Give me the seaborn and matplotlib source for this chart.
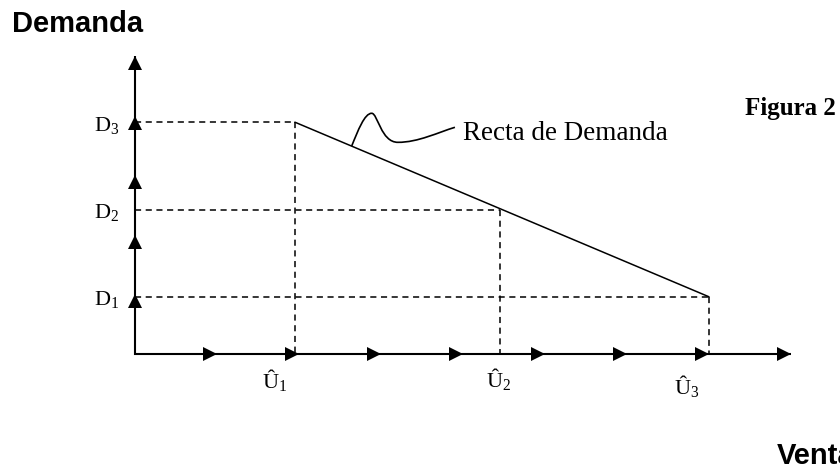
"""
Recta de demanda: Demanda vs Ventas (Figura 2).
"""
import numpy as np
import pandas as pd
import matplotlib
matplotlib.use("Agg")
import matplotlib.pyplot as plt
import seaborn as sns
from matplotlib.path import Path
from matplotlib.patches import PathPatch

# Ventas (Û) and Demanda (D) levels
ventas_labels = [r"$\mathrm{Û}_1$", r"$\mathrm{Û}_2$", r"$\mathrm{Û}_3$"]
ventas = [1.95, 4.45, 7.0]
demanda_labels = [r"$\mathrm{D}_1$", r"$\mathrm{D}_2$", r"$\mathrm{D}_3$"]
demanda = [0.96, 2.42, 3.89]

# arrow marks along each axis
x_steps = [1, 2, 3, 4, 5, 6, 7, 8]
y_steps = [1, 2, 3, 4, 5]

# callout squiggle from the line to its label (bezier control points)
callout_x = [2.643, 2.72, 2.80, 2.887, 2.96, 3.00, 3.207, 3.45, 3.70, 3.902]
callout_y = [3.49, 3.75, 4.04, 4.039, 4.04, 3.55, 3.552, 3.55, 3.72, 3.804]

serif = ["Liberation Serif", "DejaVu Serif"]
sans = ["Liberation Sans", "DejaVu Sans"]

sns.set_style("white")
plt.rcParams["text.color"] = "black"
plt.rcParams["mathtext.fontset"] = "custom"
plt.rcParams["mathtext.rm"] = "Liberation Serif"
plt.rcParams["mathtext.it"] = "Liberation Serif:italic"
plt.rcParams["mathtext.bf"] = "Liberation Serif:bold"

fig = plt.figure(figsize=(8.4, 4.67), dpi=100)
ax = fig.add_axes([0, 0, 1, 1])
ax.set_xlim(-1.646, 8.598)
ax.set_ylim(-1.896, 5.94)

# pixels per data unit, used to put the arrow tips on the steps
xpx, ypx = 82, 59.6
half = 7

# axes
ax.plot([0, 0, x_steps[-1]], [y_steps[-1], 0, 0], color="black", lw=1.5,
        solid_joinstyle="miter", solid_capstyle="butt")
ax.plot(np.array(x_steps) - half / xpx, np.zeros(len(x_steps)), ls="none",
        marker=">", ms=10, color="black", mew=0)
ax.plot(np.zeros(len(y_steps)), np.array(y_steps) - half / ypx, ls="none",
        marker="^", ms=10, color="black", mew=0)

# dashed guides: (Û_i, D_j) pairs on the demand line
pairs = list(zip(ventas, demanda[::-1]))
for u, d in pairs:
    ax.plot([0, u], [d, d], color="black", lw=1.1, ls=(0, (4, 3)))
    ax.plot([u, u], [d, 0], color="black", lw=1.1, ls=(0, (4, 3)))

# demand line
line_df = pd.DataFrame({"ventas": [ventas[0], ventas[-1]],
                        "demanda": [demanda[-1], demanda[0]]})
sns.lineplot(data=line_df, x="ventas", y="demanda", color="black", lw=1.1,
             sort=False, ax=ax)
ax.axis("off")

# callout
verts = list(zip(callout_x, callout_y))
codes = [Path.MOVETO] + [Path.CURVE4] * (len(verts) - 1)
ax.add_patch(PathPatch(Path(verts, codes), facecolor="none",
                       edgecolor="black", lw=1.2))
ax.text(4.0, 3.59, "Recta de Demanda", family=serif, fontsize=19.5,
        ha="left", va="baseline")

# tick-like labels
for lab, d in zip(demanda_labels, demanda):
    ax.text(-0.195, d - 0.05, lab, fontsize=16, ha="right", va="center")
u_label_x = [1.70, 4.43, 6.73]
u_label_y = [-0.44, -0.42, -0.54]
for lab, lx, ly in zip(ventas_labels, u_label_x, u_label_y):
    ax.text(lx, ly, lab, fontsize=16, ha="center", va="center")

# titles
fig.text(12 / 840, 1 - 32 / 467, "Demanda", family=sans, fontsize=21,
         fontweight="bold", ha="left", va="baseline")
fig.text(777 / 840, 1 - 464 / 467, "Ventas", family=sans, fontsize=21,
         fontweight="bold", ha="left", va="baseline")
fig.text(745 / 840, 1 - 115 / 467, "Figura 2", family=serif, fontsize=18,
         fontweight="bold", ha="left", va="baseline")

fig.savefig("out.png", dpi=100)
